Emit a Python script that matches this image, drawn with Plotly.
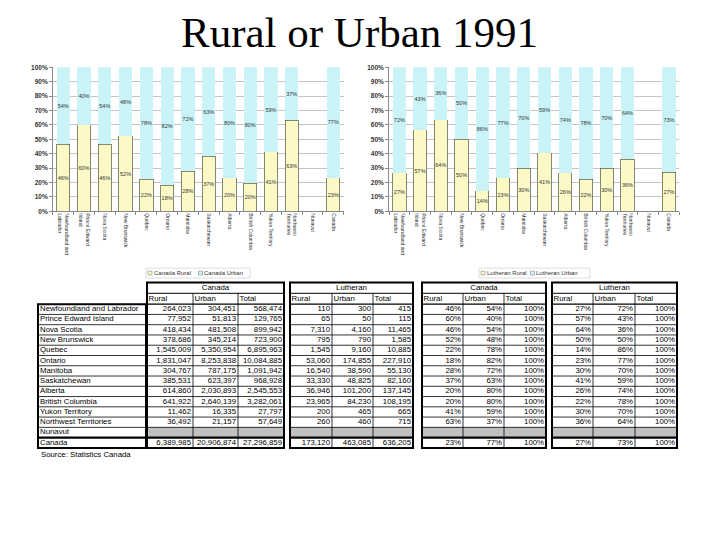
import plotly.graph_objects as go

# ---------------- data ----------------
provinces = ["Newfoundland and Labrador", "Prince Edward Island", "Nova Scotia",
             "New Brunswick", "Quebec", "Ontario", "Manitoba", "Saskatchewan",
             "Alberta", "British Columbia", "Yukon Territory",
             "Northwest Territories", "Nunavut", "Canada"]
axis_labels = ["Newfoundland and<br>Labrador", "Prince Edward<br>Island", "Nova Scotia",
               "New Brunswick", "Quebec", "Ontario", "Manitoba", "Saskatchewan",
               "Alberta", "British Columbia", "Yukon Territory",
               "Northwest<br>Territories", "Nunavut", "Canada"]

canada_rural = [264023, 77952, 418434, 378686, 1545009, 1831047, 304767, 385531,
                614860, 641922, 11462, 36492, None, 6389985]
canada_urban = [304451, 51813, 481508, 345214, 5350954, 8253838, 787175, 623397,
                2030893, 2640139, 16335, 21157, None, 20906874]
canada_total = [568474, 129765, 899942, 723900, 6895963, 10084885, 1091942, 968928,
                2545553, 3282061, 27797, 57649, None, 27296859]

luth_rural = [110, 65, 7310, 795, 1545, 53060, 16540, 33330, 36946, 23965, 200, 260,
              None, 173120]
luth_urban = [300, 50, 4160, 790, 9160, 174855, 38590, 48825, 101200, 84230, 465, 460,
              None, 463085]
luth_total = [415, 115, 11465, 1585, 10885, 227910, 55130, 82160, 137145, 108195, 665,
              715, None, 636205]

canada_rural_pct = [46, 60, 46, 52, 22, 18, 28, 37, 20, 20, 41, 63, None, 23]
canada_urban_pct = [54, 40, 54, 48, 78, 82, 72, 63, 80, 80, 59, 37, None, 77]
canada_total_pct = [100, 100, 100, 100, 100, 100, 100, 100, 100, 100, 100, 100, None, 100]
luth_rural_pct = [27, 57, 64, 50, 14, 23, 30, 41, 26, 22, 30, 36, None, 27]
luth_urban_pct = [72, 43, 36, 50, 86, 77, 70, 59, 74, 78, 70, 64, None, 73]
luth_total_pct = [100, 100, 100, 100, 100, 100, 100, 100, 100, 100, 100, 100, None, 100]

col_headers = ["Rural", "Urban", "Total"]
pct_ticks = list(range(0, 101, 10))
pct_tick_text = [f"{v}%" for v in pct_ticks]

# ---------------- style ----------------
W, H = 720, 540
OFF = 8            # page body margin: screen px -> figure px
FONT = "Liberation Sans"
RURAL = "#fcf9c6"
URBAN = "#c9f3f7"
EDGE = "#4d5a40"
TXT = "#333333"


def SX(px):
    return (px - OFF) / W


def SY(py):
    return 1 - (py - OFF) / H


def pct_text(vals):
    return ["" if v is None else f"{v}%" for v in vals]


def num_text(vals):
    return ["" if v is None else f"{v:,}" for v in vals]


fig = go.Figure()
shapes = []
annotations = []

charts = [
    dict(rural=canada_rural, urban=canada_urban, rp=canada_rural_pct, up=canada_urban_pct,
         names=("Canada Rural", "Canada Urban"), xa="x", ya="y",
         leg_box=(146, 250), leg_sq=(150, 200.5)),
    dict(rural=luth_rural, urban=luth_urban, rp=luth_rural_pct, up=luth_urban_pct,
         names=("Lutheran Rural", "Lutheran Urban"), xa="x2", ya="y2",
         leg_box=(479, 590), leg_sq=(483, 532.5)),
]

LEG_Y = 272.5
LEG_FONT = 6

for ch in charts:
    series = [(ch["rural"], ch["rp"], RURAL, ch["names"][0], EDGE),
              (ch["urban"], ch["up"], URBAN, ch["names"][1], "rgba(0,0,0,0)")]
    for k, (vals, pcts, color, name, edge) in enumerate(series):
        fig.add_trace(go.Bar(
            x=axis_labels, y=vals, name=name,
            marker=dict(color=color, line=dict(color=edge, width=0.7)),
            text=pct_text(pcts), textposition="inside", insidetextanchor="middle",
            textangle=0, textfont=dict(size=5.5, color=TXT, family=FONT),
            showlegend=False, hoverinfo="skip", xaxis=ch["xa"], yaxis=ch["ya"]))
        # compact legend entry (small square + label), like the original chart legend
        cx = ch["leg_sq"][k]
        shapes.append(dict(type="rect", xref="paper", yref="paper",
                           x0=SX(cx - 2), x1=SX(cx + 2),
                           y0=SY(LEG_Y + 2), y1=SY(LEG_Y - 2),
                           fillcolor=color, line=dict(color="#8a8a8a", width=0.6)))
        annotations.append(dict(text=name, x=SX(cx + 2.5), y=SY(LEG_Y),
                                xref="paper", yref="paper", xanchor="left",
                                yanchor="middle", showarrow=False, borderpad=0,
                                font=dict(size=LEG_FONT, family=FONT, color=TXT)))
    bx0, bx1 = ch["leg_box"]
    shapes.append(dict(type="rect", xref="paper", yref="paper", x0=SX(bx0), x1=SX(bx1),
                       y0=SY(LEG_Y + 5), y1=SY(LEG_Y - 5),
                       line=dict(color="#c8c8c8", width=0.6)))

y_dom = [SY(210), SY(64)]
xaxis_common = dict(type="category", tickangle=90, tickfont=dict(size=5, family=FONT, color=TXT),
                    showline=True, linecolor="#888888", linewidth=0.8, ticks="outside",
                    tickson="boundaries", ticklen=3, tickcolor="#888888", showgrid=False,
                    fixedrange=True)
yaxis_common = dict(range=[0, 100], tickmode="array", tickvals=pct_ticks,
                    ticktext=pct_tick_text,
                    tickfont=dict(size=6.5, family=FONT, color=TXT, weight="bold"),
                    showgrid=True, gridcolor="#c4c4c4", gridwidth=0.7, showline=True,
                    linecolor="#888888", linewidth=0.8, ticks="outside", ticklen=3,
                    tickcolor="#888888", zeroline=False, domain=y_dom, fixedrange=True)

fig.update_layout(
    xaxis=dict(domain=[SX(52.9), SX(343.7)], anchor="y", **xaxis_common),
    yaxis=dict(anchor="x", **yaxis_common),
    xaxis2=dict(domain=[SX(389.0), SX(679.4)], anchor="y2", **xaxis_common),
    yaxis2=dict(anchor="x2", **yaxis_common),
)

# ---------------- table (drawn on a hidden pixel-scaled axis pair) ----------------
TX0, TX1 = 30, 690
TY0 = 279
fig.update_layout(
    xaxis3=dict(domain=[SX(TX0), SX(TX1)], range=[TX0, TX1], visible=False, anchor="y3",
                fixedrange=True),
    yaxis3=dict(domain=[0, SY(TY0)], range=[H + OFF, TY0], visible=False, anchor="x3",
                fixedrange=True),
)

TBL_TOP = 282.0
TITLE_H = 11.0
HEAD_H = 11.0
ROW_H = 10.4
DATA_TOP = TBL_TOP + TITLE_H + HEAD_H
N_ROWS = len(provinces)
TBL_BOT = DATA_TOP + N_ROWS * ROW_H
NUN_IDX = provinces.index("Nunavut")

LABEL_X = (38, 146)
groups = [
    dict(title="Canada", xs=[147, 193, 238, 284],
         cols=[num_text(canada_rural), num_text(canada_urban), num_text(canada_total)]),
    dict(title="Lutheran", xs=[290, 332, 373, 413],
         cols=[num_text(luth_rural), num_text(luth_urban), num_text(luth_total)]),
    dict(title="Canada", xs=[422, 463, 504, 546],
         cols=[pct_text(canada_rural_pct), pct_text(canada_urban_pct), pct_text(canada_total_pct)]),
    dict(title="Lutheran", xs=[552, 593, 635, 677],
         cols=[pct_text(luth_rural_pct), pct_text(luth_urban_pct), pct_text(luth_total_pct)]),
]


def line(x0, y0, x1, y1, w=0.8):
    shapes.append(dict(type="line", xref="x3", yref="y3", x0=x0, y0=y0, x1=x1, y1=y1,
                       line=dict(color="black", width=w), layer="above"))


def rect(x0, y0, x1, y1, w=2.0, fill=None):
    shapes.append(dict(type="rect", xref="x3", yref="y3", x0=x0, y0=y0, x1=x1, y1=y1,
                       line=dict(color="black" if w else "rgba(0,0,0,0)", width=w),
                       fillcolor=fill if fill else "rgba(0,0,0,0)",
                       layer="above" if w else "below"))


def row_mid(i):
    return DATA_TOP + ROW_H * (i + 0.5)


left_x, left_y, left_t = [], [], []
right_x, right_y, right_t = [], [], []
ctr_x, ctr_y, ctr_t = [], [], []

# row label box
lx0, lx1 = LABEL_X
for i in range(1, N_ROWS):
    line(lx0, DATA_TOP + i * ROW_H, lx1, DATA_TOP + i * ROW_H, 2.2 if i == N_ROWS - 1 else 0.8)
rect(lx0, DATA_TOP, lx1, TBL_BOT, 2.0)
for i, p in enumerate(provinces):
    left_x.append(lx0 + 2)
    left_y.append(row_mid(i))
    left_t.append(p)

for g in groups:
    xs = g["xs"]
    gx0, gx1 = xs[0], xs[-1]
    rect(gx0, DATA_TOP + NUN_IDX * ROW_H, gx1, DATA_TOP + (NUN_IDX + 1) * ROW_H, 0, "#c0c0c0")
    line(gx0, TBL_TOP + TITLE_H, gx1, TBL_TOP + TITLE_H, 1.0)
    ctr_x.append((gx0 + gx1) / 2)
    ctr_y.append(TBL_TOP + TITLE_H / 2)
    ctr_t.append(g["title"])
    line(gx0, DATA_TOP, gx1, DATA_TOP, 1.4)
    for i in range(1, N_ROWS):
        line(gx0, DATA_TOP + i * ROW_H, gx1, DATA_TOP + i * ROW_H,
             2.2 if i == N_ROWS - 1 else 0.8)
    for xv in xs[1:-1]:
        line(xv, TBL_TOP + TITLE_H, xv, TBL_BOT, 0.8)
    rect(gx0, TBL_TOP, gx1, TBL_BOT, 2.0)
    for j, h in enumerate(col_headers):
        left_x.append(xs[j] + 1.5)
        left_y.append(TBL_TOP + TITLE_H + HEAD_H / 2)
        left_t.append(h)
        for i, v in enumerate(g["cols"][j]):
            right_x.append(xs[j + 1] - 2)
            right_y.append(row_mid(i))
            right_t.append(v)

tfont = dict(size=7.8, family=FONT, color="black")
for xs_, ys_, ts_, pos in [(left_x, left_y, left_t, "middle right"),
                           (right_x, right_y, right_t, "middle left"),
                           (ctr_x, ctr_y, ctr_t, "middle center")]:
    fig.add_trace(go.Scatter(x=xs_, y=ys_, text=ts_, mode="text", textposition=pos,
                             textfont=tfont, xaxis="x3", yaxis="y3", showlegend=False,
                             hoverinfo="skip", cliponaxis=False))

annotations += [
    dict(text="Rural or Urban 1991", x=SX(359), y=SY(28.5), xref="paper", yref="paper",
         xanchor="center", yanchor="middle", showarrow=False,
         font=dict(family="Liberation Serif", size=43, color="black")),
    dict(text="Source: Statistics Canada", x=SX(39), y=SY(456), xref="paper",
         yref="paper", xanchor="left", yanchor="middle", showarrow=False,
         font=dict(family=FONT, size=7.8, color="black")),
]

fig.update_layout(
    width=W, height=H, margin=dict(l=0, r=0, t=0, b=0),
    paper_bgcolor="white", plot_bgcolor="rgba(0,0,0,0)",
    barmode="stack", barnorm="percent", bargap=0.36,
    uniformtext=dict(minsize=5, mode="show"),
    font=dict(family=FONT, color=TXT),
    showlegend=False,
    shapes=shapes, annotations=annotations,
)

fig.write_html("out.html")
